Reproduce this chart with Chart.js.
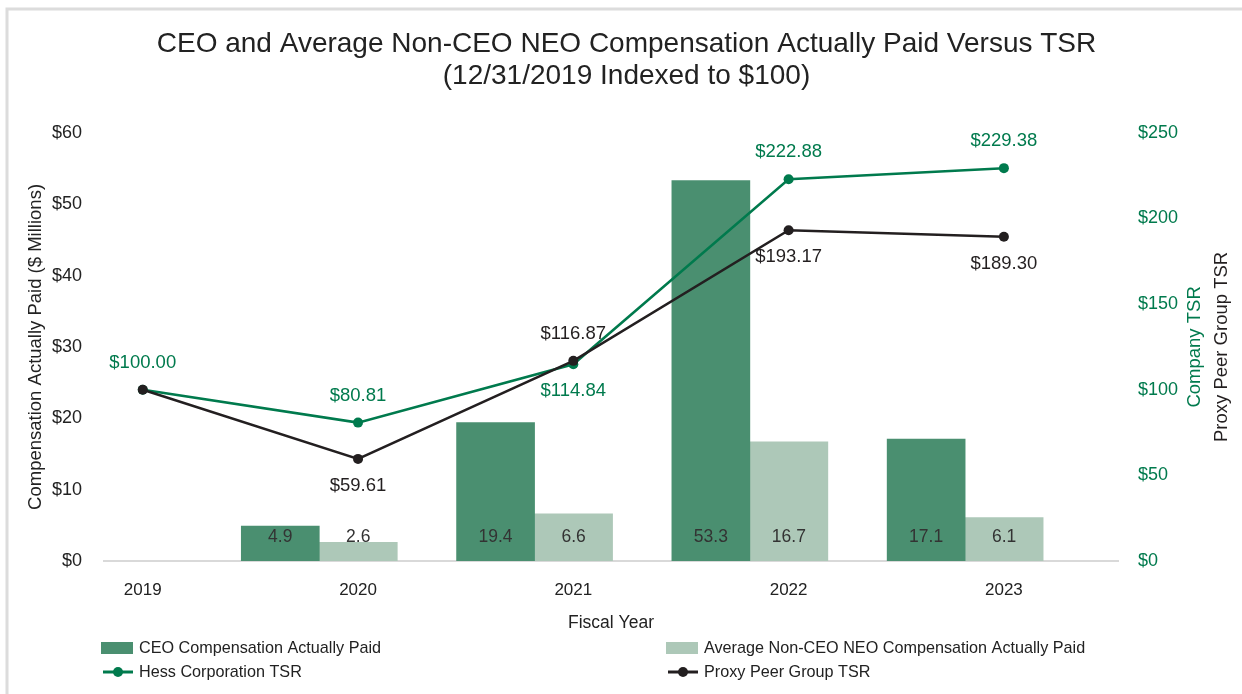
<!DOCTYPE html>
<html>
<head>
<meta charset="utf-8">
<script src="https://cdn.jsdelivr.net/npm/chart.js@4/dist/chart.umd.min.js"></script>
<style>
  html, body { margin: 0; padding: 0; background: #fff; }
  #box { width: 1242px; height: 694px; }
</style>
</head>
<body>
<div id="box"><canvas id="grafico"></canvas></div>
<script>
// dati
const anni = ["2019", "2020", "2021", "2022", "2023"];
const ceoPagato = [null, 4.9, 19.4, 53.3, 17.1];
const mediaNeoPagato = [null, 2.6, 6.6, 16.7, 6.1];
const tsrHess = [100.00, 80.81, 114.84, 222.88, 229.38];
const tsrPeer = [100.00, 59.61, 116.87, 193.17, 189.30];
const tickSinistra = [0, 10, 20, 30, 40, 50, 60];
const tickDestra = [0, 50, 100, 150, 200, 250];

const VERDE = "#007a4d";
const NERO = "#231f20";
const FONT = "'Liberation Sans', Arial, sans-serif";

const comePunti = arr => arr.map((v, i) => ({ x: i, y: v })).filter(p => p.y !== null);

// etichette sopra (-1) o sotto (+1) i punti, null = nessuna
const latoHess = [-1, -1, 1, -1, -1];
const latoPeer = [null, 1, -1, 1, 1];

const pluginEtichette = {
  id: "etichette",
  afterDatasetsDraw(chart) {
    const ctx = chart.ctx;
    ctx.save();
    ctx.textAlign = "center";
    ctx.textBaseline = "middle";
    const base = chart.scales.y.getPixelForValue(0);
    chart.data.datasets.forEach((ds, di) => {
      const meta = chart.getDatasetMeta(di);
      meta.data.forEach((el, i) => {
        const v = ds.data[i].y;
        if (ds.type === "line") {
          const hess = ds.label.startsWith("Hess");
          const lato = (hess ? latoHess : latoPeer)[ds.data[i].x];
          if (lato === null) return;
          ctx.font = "18.5px " + FONT;
          ctx.fillStyle = hess ? VERDE : NERO;
          ctx.fillText("$" + v.toFixed(2), el.x, el.y + lato * 27);
        } else {
          ctx.font = "17.5px " + FONT;
          ctx.fillStyle = "#333";
          ctx.fillText(v.toFixed(1), el.x, base - 24);
        }
      });
    });
    ctx.restore();
  }
};

const pluginCornice = {
  id: "cornice",
  afterDraw(chart) {
    const ctx = chart.ctx;
    ctx.save();
    // bordo grigio
    ctx.strokeStyle = "#dcdcdc";
    ctx.lineWidth = 3;
    ctx.beginPath();
    ctx.moveTo(7, 694);
    ctx.lineTo(7, 9);
    ctx.lineTo(1242, 9);
    ctx.stroke();

    // titoli asse destro
    const a = chart.chartArea;
    const cy = (a.top + a.bottom) / 2;
    ctx.font = "18.5px " + FONT;
    ctx.textAlign = "center";
    ctx.textBaseline = "middle";
    [["Company TSR", VERDE, 1195], ["Proxy Peer Group TSR", NERO, 1222]].forEach(([t, c, x]) => {
      ctx.save();
      ctx.translate(x, cy);
      ctx.rotate(-Math.PI / 2);
      ctx.fillStyle = c;
      ctx.fillText(t, 0, 0);
      ctx.restore();
    });

    // legenda a due colonne
    const pos = [[101, 648], [666, 648], [101, 672], [666, 672]];
    const ordine = [2, 3, 0, 1];
    ctx.font = "16.2px " + FONT;
    ordine.forEach((di, k) => {
      const ds = chart.data.datasets[di];
      const [x, y] = pos[k];
      if (ds.type === "line") {
        ctx.strokeStyle = ds.borderColor;
        ctx.lineWidth = ds.borderWidth + 0.5;
        ctx.beginPath();
        ctx.moveTo(x + 2, y);
        ctx.lineTo(x + 32, y);
        ctx.stroke();
        ctx.fillStyle = ds.borderColor;
        ctx.beginPath();
        ctx.arc(x + 17, y, 5, 0, Math.PI * 2);
        ctx.fill();
      } else {
        ctx.fillStyle = ds.backgroundColor;
        ctx.fillRect(x, y - 6, 32, 12);
      }
      ctx.fillStyle = "#222";
      ctx.textAlign = "left";
      ctx.fillText(ds.label, x + 38, y + 1);
    });
    ctx.restore();
  }
};

new Chart(document.getElementById("grafico"), {
  data: {
    datasets: [
      {
        type: "line",
        label: "Hess Corporation TSR",
        data: comePunti(tsrHess),
        xAxisID: "x",
        yAxisID: "y2",
        borderColor: VERDE,
        backgroundColor: VERDE,
        borderWidth: 2.5,
        pointRadius: 5,
        pointBackgroundColor: VERDE,
        pointBorderWidth: 0,
        order: 1
      },
      {
        type: "line",
        label: "Proxy Peer Group TSR",
        data: comePunti(tsrPeer),
        xAxisID: "x",
        yAxisID: "y2",
        borderColor: NERO,
        backgroundColor: NERO,
        borderWidth: 2.5,
        pointRadius: 5,
        pointBackgroundColor: NERO,
        pointBorderWidth: 0,
        order: 0
      },
      {
        type: "bar",
        label: "CEO Compensation Actually Paid",
        data: comePunti(ceoPagato),
        xAxisID: "xb",
        yAxisID: "y",
        backgroundColor: "#4a8f70",
        barThickness: 78,
        order: 2
      },
      {
        type: "bar",
        label: "Average Non-CEO NEO Compensation Actually Paid",
        data: comePunti(mediaNeoPagato),
        xAxisID: "xb",
        yAxisID: "y",
        backgroundColor: "#adc8b8",
        barThickness: 78,
        order: 3
      }
    ]
  },
  options: {
    responsive: true,
    maintainAspectRatio: false,
    animation: false,
    layout: { padding: { left: 21, right: 10, top: 15, bottom: 56 } },
    plugins: {
      legend: { display: false },
      tooltip: { enabled: false },
      title: {
        display: true,
        text: ["CEO and Average Non-CEO NEO Compensation Actually Paid Versus TSR", "(12/31/2019 Indexed to $100)"],
        color: "#222",
        font: { family: FONT, size: 28, weight: "normal", lineHeight: 1.14 },
        padding: { top: 13, bottom: 41 }
      }
    },
    scales: {
      x: {
        type: "linear",
        offset: false,
        min: -0.18,
        max: 4.53,
        grid: { display: false },
        border: { display: true, color: "#d9d9d9", width: 2 },
        ticks: {
          stepSize: 1,
          includeBounds: false,
          padding: 11,
          color: "#222",
          font: { family: FONT, size: 17 },
          callback: v => anni[v] ?? ""
        },
        title: {
          display: true,
          text: "Fiscal Year",
          color: "#222",
          font: { family: FONT, size: 17.5 }
        },
        afterFit: s => { s.height = 77; }
      },
      // asse delle barre, sfasato rispetto a quello delle linee come nell'originale
      xb: {
        type: "linear",
        display: false,
        offset: false,
        min: 0,
        max: 4.71,
        ticks: { stepSize: 1, includeBounds: false }
      },
      y: {
        position: "left",
        min: 0,
        max: 60,
        grid: { display: false },
        border: { display: false },
        afterBuildTicks: s => { s.ticks = tickSinistra.map(v => ({ value: v })); },
        ticks: {
          padding: 14,
          color: "#222",
          font: { family: FONT, size: 18 },
          callback: v => "$" + v
        },
        title: {
          display: true,
          text: "Compensation Actually Paid ($ Millions)",
          color: "#222",
          font: { family: FONT, size: 18.5 }
        },
        afterFit: s => { s.width = 83; }
      },
      y2: {
        position: "right",
        min: 0,
        max: 250,
        grid: { display: false },
        border: { display: false },
        afterBuildTicks: s => { s.ticks = tickDestra.map(v => ({ value: v })); },
        ticks: {
          padding: 12,
          color: VERDE,
          font: { family: FONT, size: 18 },
          callback: v => "$" + v
        },
        afterFit: s => { s.width = 114; }
      }
    }
  },
  plugins: [pluginEtichette, pluginCornice]
});
</script>
</body>
</html>
